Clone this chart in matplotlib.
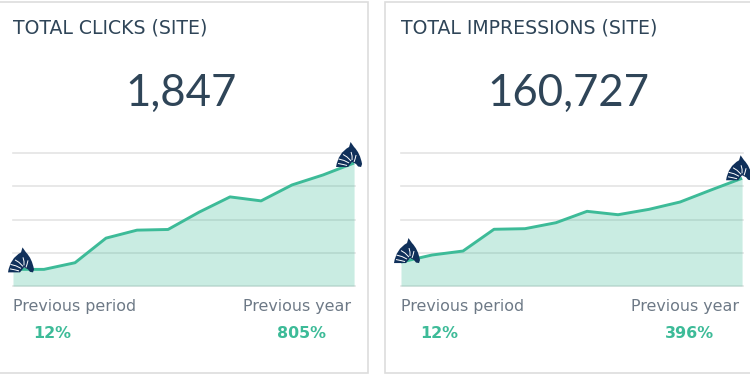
import matplotlib
matplotlib.use("Agg")
import matplotlib.pyplot as plt
from matplotlib.patches import PathPatch, Rectangle
from matplotlib.path import Path
from matplotlib.transforms import Affine2D

W, H = 750, 375

# chart data
periods = list(range(12))
clicks = [25, 25, 35, 72, 84, 85, 111, 134, 128, 152, 167, 185]
impressions = [3600, 4660, 5260, 8530, 8620, 9520, 11230, 10720, 11530, 12630, 14440, 16200]
clicks_ticks = [0, 50, 100, 150, 200]
impressions_ticks = [0, 5000, 10000, 15000, 20000]

titles = ["TOTAL CLICKS (SITE)", "TOTAL IMPRESSIONS (SITE)"]
totals = ["1,847", "160,727"]
prev_period = ["12%", "12%"]
prev_year = ["805%", "396%"]

NAVY = "#10305a"
GREEN = "#3dbb98"
DARK = "#2f4558"
GREY = "#6d7986"
BORDER = "#dddddd"
GRID = "#e4e4e4"

plt.rcParams["font.family"] = ["DejaVu Sans"]

fig = plt.figure(figsize=(W / 100, H / 100), dpi=100)


def fx(x):
    return x / W


def fy(y):
    return 1 - y / H


def text(x, y, s, **kw):
    fig.text(fx(x), fy(y), s, va="baseline", **kw)


# head outline and stripes, pixels relative to the bottom left corner
head = Path(
    [(0, 0), (2, 14), (13, 20), (14.5, 25), (18, 20), (24, 14), (26, 3),
     (25, 0), (22, 0.5), (20, 3), (16, 5), (12, 0), (0, 0)],
    [Path.MOVETO, Path.CURVE3, Path.CURVE3, Path.LINETO, Path.LINETO, Path.CURVE3, Path.CURVE3,
     Path.LINETO, Path.LINETO, Path.LINETO, Path.LINETO, Path.LINETO, Path.CLOSEPOLY],
)
stripe_lines = [
    [(2, 3.5), (7, 2.5), (11, 1.5)],
    [(2.5, 8), (8, 6.5), (13, 4)],
    [(7, 12.5), (11, 10), (15, 6)],
    [(15, 15), (16, 11), (16, 7)],
    [(20, 12), (19, 8), (18, 5)],
]


def draw_head(ax, x, y, dx, dy):
    # offset in pixels from the data point
    px, py = ax.transData.transform((x, y))
    tr = Affine2D().translate(px + dx, py + dy)
    ax.add_patch(PathPatch(head, fc=NAVY, ec="none", transform=tr, clip_on=False, zorder=6))
    for pts in stripe_lines:
        ax.add_patch(PathPatch(Path(pts), fc="none", ec="white", lw=0.7,
                               transform=tr, clip_on=False, zorder=7))


def draw_card(left, values, ticks, title, total, total_x, period_val, year_val,
              period_x, year_x, start_off, end_off):
    ax = fig.add_axes([fx(left), fy(286), 342 / W, 133 / H])
    ax.set_xlim(periods[0], periods[-1] + 0.03)
    ax.set_ylim(ticks[0], ticks[-1])
    ax.set_yticks(ticks)
    ax.set_xticks([])
    ax.tick_params(left=False, labelleft=False)
    ax.grid(axis="y", color=GRID, lw=1.2)
    for gl in ax.get_ygridlines():
        gl.set_clip_on(False)
    ax.set_axisbelow(True)
    ax.patch.set_alpha(0)
    for s in ax.spines.values():
        s.set_visible(False)
    ax.fill_between(periods, values, 0, color=GREEN, alpha=0.28, lw=0, zorder=3)
    ax.plot(periods, values, color=GREEN, lw=2.1, zorder=4, solid_capstyle="butt")
    draw_head(ax, periods[0], values[0], *start_off)
    draw_head(ax, periods[-1], values[-1], *end_off)

    text(left, 33, title, fontsize=13.6, color=DARK)
    text(total_x, 106, total, fontsize=31.5, color=DARK, ha="center", family=["Lato", "DejaVu Sans"])
    text(left, 311, "Previous period", fontsize=11.4, color=GREY)
    text(left + 338, 311, "Previous year", fontsize=11.4, color=GREY, ha="right")
    text(period_x, 338, period_val, fontsize=11.4, color=GREEN, weight="bold", ha="center")
    text(year_x, 338, year_val, fontsize=11.4, color=GREEN, weight="bold", ha="center")


# card frames
fig.add_artist(Rectangle((fx(-5), fy(373)), fx(373), 371 / H, fc="white", ec=BORDER, lw=1.2,
                         transform=fig.transFigure, zorder=-1))
fig.add_artist(Rectangle((fx(384.5), fy(373)), fx(380), 371 / H, fc="white", ec=BORDER, lw=1.2,
                         transform=fig.transFigure, zorder=-1))

draw_card(13, clicks, clicks_ticks, titles[0], totals[0], 181, prev_period[0], prev_year[0],
          52, 302, (-5, -3), (-18, -4))
draw_card(401, impressions, impressions_ticks, titles[1], totals[1], 568, prev_period[1], prev_year[1],
          439, 689, (-7, -1), (-16, -2))

fig.savefig("out.png", dpi=100)
